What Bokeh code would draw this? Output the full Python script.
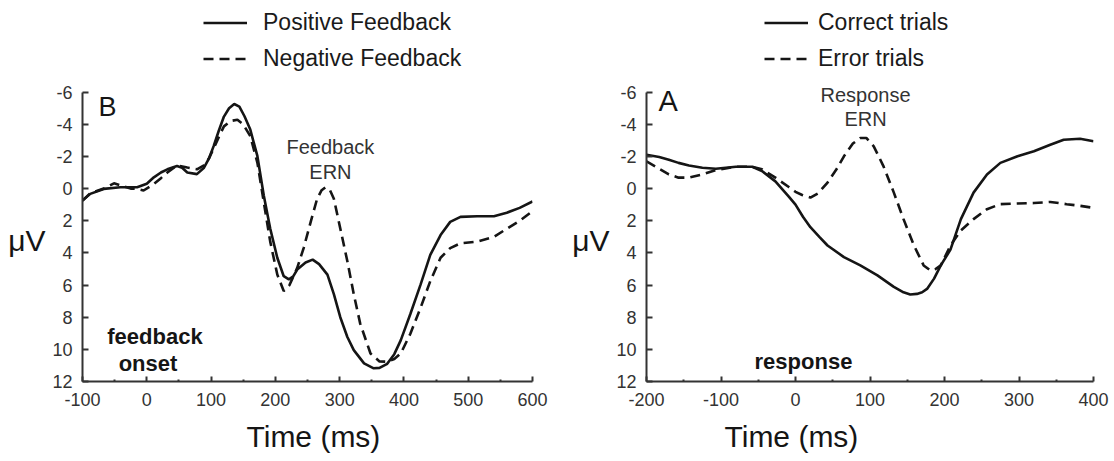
from bokeh.plotting import figure
from bokeh.layouts import row
from bokeh.models import Range1d, Label, Legend, LegendItem, FixedTicker, Title
from bokeh.embed import file_html
from bokeh.resources import INLINE

FONT = "Liberation Sans"

# ---------------- Panel B : feedback-locked ----------------
fb_xticks = [-100, 0, 100, 200, 300, 400, 500, 600]
fb_xminor = [-50, 50, 150, 250, 350, 450, 550]
y_ticks = [-6, -4, -2, 0, 2, 4, 6, 8, 10, 12]

pos_t = [-100, -88, -67, -41, -15, 0, 11, 22, 32, 47, 55, 63, 78, 89, 97, 104, 112, 120,
         128, 136, 144, 152, 161, 172, 182, 192, 203, 213, 221, 228, 234, 247, 258, 268,
         281, 291, 301, 312, 322, 338, 353, 362, 374, 385, 395, 410, 426, 441, 457, 472,
         488, 514, 540, 560, 580, 600]
pos_v = [0.75, 0.33, 0.02, -0.08, -0.08, -0.3, -0.7, -1.0, -1.2, -1.41, -1.3, -1.0, -0.9,
         -1.3, -1.9, -2.64, -3.6, -4.48, -5.0, -5.26, -5.1, -4.5, -3.67, -2.03, 0.43, 2.48,
         4.3, 5.45, 5.65, 5.45, 5.04, 4.6, 4.42, 4.7, 5.35, 6.57, 8.0, 9.23, 10.05, 10.87,
         11.18, 11.15, 10.9, 10.3, 9.44, 7.8, 5.96, 4.12, 2.89, 2.07, 1.76, 1.72, 1.72, 1.5,
         1.2, 0.8]

neg_t = [-100, -88, -67, -51, -41, -25, -15, -5, 11, 22, 32, 47, 63, 78, 89, 97, 104, 112,
         120, 130, 141, 150, 161, 172, 182, 192, 203, 213, 222, 234, 244, 255, 265, 272, 278,
         285, 291, 301, 312, 322, 332, 348, 362, 374, 385, 395, 410, 426, 441, 457, 472, 488,
         514, 540, 560, 580, 600]
neg_v = [0.75, 0.3, 0.0, -0.33, -0.2, 0.0, 0.02, 0.12, -0.29, -0.65, -1.0, -1.45, -1.31,
         -1.2, -1.45, -1.9, -2.5, -3.2, -3.87, -4.2, -4.28, -4.0, -3.26, -1.62, 0.84, 3.3,
         5.35, 6.37, 6.0, 4.93, 3.7, 2.07, 0.63, 0.1, -0.08, 0.1, 0.63, 2.48, 4.52, 6.57, 8.4,
         10.26, 10.75, 10.77, 10.6, 10.26, 9.03, 7.4, 5.76, 4.3, 3.7, 3.4, 3.3, 3.0, 2.5, 2.0,
         1.4]

# ---------------- Panel A : response-locked ----------------
rs_xticks = [-200, -100, 0, 100, 200, 300, 400]
rs_xminor = [-150, -50, 50, 150, 250, 350]

cor_t = [-200, -183, -170, -157, -143, -125, -107, -80, -58, -45, -27, -9, 0, 10, 20, 32,
         43, 65, 87, 110, 132, 145, 154, 163, 170, 177, 186, 195, 208, 222, 239, 257, 275,
         298, 320, 342, 360, 382, 400]
cor_v = [-2.1, -1.97, -1.8, -1.6, -1.44, -1.3, -1.23, -1.36, -1.36, -1.09, -0.45, 0.5, 1.0,
         1.75, 2.4, 3.0, 3.54, 4.26, 4.78, 5.4, 6.11, 6.45, 6.59, 6.55, 6.45, 6.22, 5.6, 4.78,
         3.8, 1.9, 0.25, -0.88, -1.6, -2.01, -2.32, -2.73, -3.04, -3.1, -2.95]

err_t = [-200, -183, -170, -157, -143, -125, -107, -80, -58, -45, -27, -9, 0, 9, 20, 30, 43,
         55, 65, 77, 87, 95, 105, 118, 132, 145, 159, 172, 181, 188, 195, 208, 222, 239, 257,
         275, 298, 320, 342, 364, 382, 400]
err_v = [-1.7, -1.23, -0.88, -0.68, -0.68, -0.88, -1.15, -1.36, -1.36, -1.2, -0.68, -0.1,
         0.2, 0.4, 0.56, 0.3, -0.37, -1.2, -2.01, -2.8, -3.15, -3.15, -2.63, -1.4, 0.25, 1.9,
         3.54, 4.78, 5.09, 5.0, 4.78, 3.54, 2.6, 1.9, 1.28, 0.97, 0.93, 0.9, 0.83, 0.97, 1.07,
         1.2]

INK = "#151515"
DASH = "10 6"


def make_fig(xr, xticks, xminor, width, bl, br):
    p = figure(width=width, height=461, x_range=Range1d(*xr), y_range=Range1d(12, -11.7),
               output_backend="svg", toolbar_location=None,
               min_border_left=bl, min_border_right=br, min_border_top=0,
               min_border_bottom=77)
    p.outline_line_color = None
    p.grid.visible = False
    p.background_fill_color = "white"
    p.border_fill_color = "white"
    for ax in (p.xaxis[0], p.yaxis[0]):
        ax.axis_line_color = "#333333"
        ax.axis_line_width = 2
        ax.major_tick_line_color = "#333333"
        ax.major_tick_line_width = 2
        ax.minor_tick_line_color = "#333333"
        ax.minor_tick_line_width = 2
        ax.major_tick_out = 0
        ax.minor_tick_out = 0
        ax.major_label_text_font = FONT
        ax.major_label_text_color = "#333333"
        ax.major_label_text_font_size = "18px"
        ax.major_label_standoff = 11
    xa = p.xaxis[0]
    xa.ticker = FixedTicker(ticks=xticks, minor_ticks=xminor)
    xa.major_label_overrides = {t: str(t) for t in xticks}
    xa.major_tick_in = 5
    xa.minor_tick_in = 2
    ya = p.yaxis[0]
    ya.bounds = (-6, 12)
    ya.ticker = FixedTicker(ticks=y_ticks)
    ya.major_label_overrides = {t: str(t) for t in y_ticks}
    ya.major_tick_in = 6
    ya.minor_tick_in = 0
    ya.major_label_standoff = 10
    return p


def lab(p, x, y, text, size, align="center", bold=False, color=INK):
    p.add_layout(Label(x=x, y=y, text=text, text_font=FONT, text_font_size=size,
                       text_align=align, text_baseline="middle", text_color=color,
                       text_font_style="bold" if bold else "normal"))


def ylabel(p):
    ya = p.yaxis[0]
    # blank lines above push the unit label down to the middle of the -6..12 span
    ya.axis_label = "\u00a0\n\u00a0\n\u00a0\n\u03bcV"
    ya.axis_label_orientation = "horizontal"
    ya.axis_label_text_font = FONT
    ya.axis_label_text_font_size = "30px"
    ya.axis_label_text_line_height = 1.0
    ya.axis_label_text_font_style = "normal"
    ya.axis_label_text_color = INK
    ya.axis_label_standoff = 4


def xtitle(p, offset):
    p.add_layout(Title(text="Time (ms)", align="left", offset=offset, standoff=18,
                       text_font=FONT, text_font_size="30px", text_font_style="normal",
                       text_color=INK), "below")


def legend(p, items, x, y, standoff):
    leg = Legend(items=items, location=(x, y), orientation="vertical", padding=0, margin=0,
                 spacing=3, glyph_width=44, glyph_height=33, label_height=33,
                 label_standoff=standoff, label_text_font=FONT, label_text_font_size="23px",
                 label_text_color="#1a1a1a", background_fill_alpha=0,
                 border_line_color=None)
    p.add_layout(leg, "center")


# ---- left figure (B)
p1 = make_fig((-100, 600), fb_xticks, fb_xminor, 560, 82, 28)
r_pos = p1.line(pos_t, pos_v, line_color=INK, line_width=2.6)
r_neg = p1.line(neg_t, neg_v, line_color=INK, line_width=2.6, line_dash=DASH)
legend(p1, [LegendItem(label="Positive Feedback", renderers=[r_pos]),
            LegendItem(label="Negative Feedback", renderers=[r_neg])], 121, 306, 16)
lab(p1, -75, -5.05, "B", "27px", align="left")
lab(p1, 285.7, -2.58, "Feedback", "20px", color="#333333")
lab(p1, 285.7, -1.04, "ERN", "20px", color="#333333")
lab(p1, 12.7, 9.19, "feedback", "22px", bold=True)
lab(p1, 1.9, 10.9, "onset", "22px", bold=True)
ylabel(p1)
xtitle(p1, 164)

# ---- right figure (A)
p2 = make_fig((-200, 400), rs_xticks, rs_xminor, 552, 86, 19)
r_cor = p2.line(cor_t, cor_v, line_color=INK, line_width=2.6)
r_err = p2.line(err_t, err_v, line_color=INK, line_width=2.6, line_dash=DASH)
legend(p2, [LegendItem(label="Correct trials", renderers=[r_cor]),
            LegendItem(label="Error trials", renderers=[r_err])], 118, 306, 10)
lab(p2, -184, -5.45, "A", "29px", align="left")
lab(p2, 94, -5.82, "Response", "20px", color="#333333")
lab(p2, 94, -4.31, "ERN", "20px", color="#333333")
lab(p2, 10.7, 10.78, "response", "22px", bold=True)
ylabel(p2)
xtitle(p2, 78)

layout = row(p1, p2, spacing=0)
open("out.html", "w").write(file_html(layout, INLINE))
